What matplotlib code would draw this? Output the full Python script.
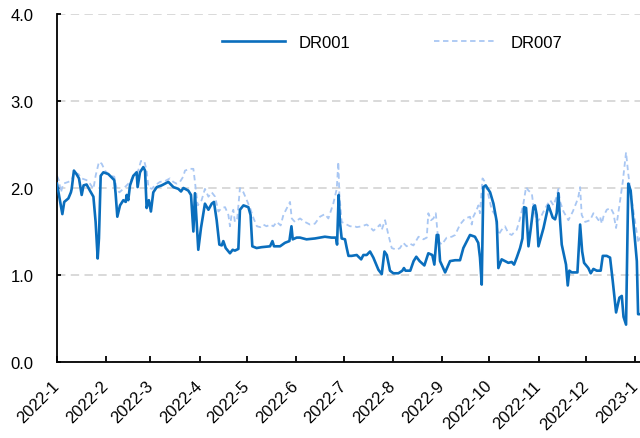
import numpy as np
import pandas as pd
import matplotlib
matplotlib.use("Agg")
import matplotlib.pyplot as plt
import matplotlib.dates as mdates
from matplotlib.ticker import FuncFormatter

plt.rcParams['font.family'] = ['Liberation Sans', 'DejaVu Sans']

# days counted from 2022-01-01, values in %
dr001_day = [0, 3.4, 4.6, 7.2, 8.8, 9.3, 10.7, 12.3, 13.9, 15.6, 16.8, 18.7, 20.8, 23, 24.4, 25.7, 26.5,
             27.6, 29.3, 32.4, 36.2, 37, 38.1, 39.8, 41.9, 43.4, 44, 45, 46.1, 48.2, 50.3, 50.9, 52.4,
             54.5, 55.6, 56.6, 58, 59.3, 60.8, 63, 66.1, 70.3, 73.5, 76.6, 78.3, 79.8, 82.9, 84.6, 86.1,
             87.1, 89.2, 90.9, 93.4, 95.6, 97.7, 99.1, 100.8, 102.5, 104, 105, 106.5, 109.2, 110.9,
             112.3, 114.5, 115.5, 117.7, 120.8, 122.2, 123.3, 126, 129.2, 134.5, 136, 137, 140.8, 143.9,
             146.7, 148, 148.8, 151.3, 153.4, 157.5, 162.8, 169.1, 173.3, 176.1, 176.8, 177.8, 178.6,
             179.7, 181.8, 182.9, 184, 186, 189.2, 192, 193.4, 195.5, 197.6, 199.7, 202.9, 205, 206.7,
             208.2, 210.2, 212.3, 215.5, 218, 219, 220, 223, 225.1, 226.8, 228.9, 231.9, 234.4, 236.9,
             238.2, 239.7, 240.7, 241.8, 245, 248.1, 251.3, 254.4, 256.5, 260.7, 263.8, 265.9, 267,
             268.1, 269.1, 270.6, 273.4, 275.5, 277.6, 278.6, 280.7, 282.8, 284.9, 287, 288.5, 290.2,
             292.3, 293.8, 294.8, 296.1, 297.6, 299.1, 300.7, 301.7, 302.8, 303.9, 307.1, 310.2, 311.2,
             312.9, 314.4, 315.4, 316.5, 317.6, 318.6, 320.1, 321.3, 322.4, 323.4, 324.9, 328.5, 330.2,
             331.5, 332.7, 335.4, 336.9, 338.6, 340.7, 343.2, 344.5, 347, 349.1, 350.8, 352.9, 355,
             356.5, 357.6, 359.2, 360.6, 362.1, 363.8, 366, 366.8, 368]
dr001_val = [2.05, 1.70, 1.84, 1.88, 1.95, 1.99, 2.20, 2.16, 2.11, 1.92, 2.03, 2.04, 1.97, 1.90, 1.61, 1.19, 1.42,
             2.14, 2.18, 2.16, 2.09, 1.94, 1.67, 1.80, 1.86, 1.84, 1.92, 1.86, 2.03, 2.14, 2.18, 2.01, 2.18,
             2.24, 2.20, 1.77, 1.86, 1.73, 1.95, 2.01, 2.03, 2.07, 2.01, 1.99, 1.96, 2.00, 1.97, 1.92, 1.50,
             1.94, 1.29, 1.54, 1.82, 1.75, 1.82, 1.84, 1.63, 1.35, 1.34, 1.39, 1.31, 1.25, 1.29,
             1.28, 1.30, 1.75, 1.80, 1.78, 1.69, 1.33, 1.31, 1.32, 1.33, 1.39, 1.33, 1.33, 1.37,
             1.39, 1.56, 1.41, 1.43, 1.43, 1.41, 1.42, 1.44, 1.43, 1.43, 1.35, 1.92, 1.61,
             1.42, 1.41, 1.31, 1.22, 1.22, 1.23, 1.18, 1.23, 1.23, 1.27, 1.20, 1.06, 1.01, 1.27,
             1.23, 1.05, 1.02, 1.02, 1.05, 1.08, 1.05, 1.05, 1.16, 1.21, 1.16, 1.11, 1.25, 1.23,
             1.12, 1.46, 1.46, 1.16, 1.03, 1.16, 1.17, 1.17, 1.31, 1.46, 1.44, 1.37, 1.20,
             0.89, 2.01, 2.03, 1.95, 1.82, 1.61, 1.08, 1.18, 1.16, 1.14, 1.15, 1.12, 1.20,
             1.31, 1.42, 1.78, 1.77, 1.33, 1.54, 1.78, 1.80, 1.69, 1.33, 1.54, 1.80, 1.75,
             1.66, 1.64, 1.71, 1.94, 1.61, 1.35, 1.22, 1.12, 0.88, 1.05, 1.03, 1.03, 1.58,
             1.27, 1.14, 1.08, 1.02, 1.07, 1.05, 1.05, 1.22, 1.22, 1.20, 0.93, 0.57, 0.74,
             0.76, 0.52, 0.43, 2.05, 1.97, 1.61, 1.16, 0.55, 0.55]

dr007_day = [0, 1.2, 2.5, 4, 7.2, 9.3, 10.7, 13.5, 15.6, 18.7, 20.8, 23, 24.4, 26.5, 28.2, 30.3, 33.4,
             36.2, 37.7, 39.4, 41.9, 44, 46.1, 48.8, 51.3, 53, 55.1, 56.6, 57.7, 59.8, 61.9, 65, 68.2,
             71.3, 73.4, 75.5, 77.6, 79.7, 80.8, 84, 86.1, 87.1, 88.8, 91.3, 93.4, 95.6, 97.7, 99.8,
             101.9, 104, 106.1, 108.2, 109.2, 110.2, 111.3, 112.3, 113.8, 115.5, 117.7, 119.8, 121.9,
             124.1, 126.2, 128.3, 130.2, 132.3, 134.5, 136.6, 138.7, 141.2, 142.9, 145.4, 147.1, 148.2,
             150.2, 153.4, 156.5, 159.7, 162.8, 166, 169.1, 171.3, 174.4, 176.6, 177.6, 178.2, 179.7,
             182.9, 185, 188.1, 189.2, 192.4, 195.5, 197.6, 199.7, 201.8, 203.9, 205, 207.1, 209.2,
             211.3, 214.4, 216.5, 218.6, 220.7, 222.8, 225, 228.2, 231.3, 233.4, 234.4, 236.1, 237.6,
             239.1, 240.7, 242.9, 246, 249.2, 251.3, 254.4, 257.6, 260.7, 261.8, 262.8, 264.9, 266,
             267, 268.6, 270.2, 272.3, 274.4, 276.5, 278.6, 280.7, 282.8, 284.9, 287, 290.2, 292.3,
             294.4, 296.1, 297.6, 299.7, 300.7, 302.8, 305, 307.1, 309.2, 311.3, 313.4, 315.4, 316.5,
             317.6, 319.7, 322.8, 325.6, 328, 329.1, 330.2, 331.2, 333.4, 336.5, 338.6, 340.3, 341.8,
             342.8, 343.9, 344.9, 347, 349.5, 351.2, 352.9, 355, 357.1, 359.2, 360.6, 362.8, 364.9,
             367, 368]
dr007_val = [2.14, 2.09, 1.95, 2.05, 2.07, 2.09, 2.18, 2.16, 2.11, 2.09, 2.05, 1.99, 2.14, 2.30, 2.28, 2.20, 2.14,
             2.13, 1.99, 1.95, 1.99, 2.03, 2.07, 2.16, 2.20, 2.31, 2.31, 2.20, 2.01, 1.99, 2.03, 2.07, 2.08,
             2.11, 2.07, 2.05, 2.07, 2.13, 2.20, 2.22, 2.22, 2.07, 1.80, 1.86, 1.99, 1.90, 1.95, 1.90,
             1.73, 1.77, 1.78, 1.69, 1.56, 1.69, 1.75, 1.61, 1.65, 2.00, 1.95, 1.86, 1.77,
             1.65, 1.56, 1.55, 1.58, 1.56, 1.58, 1.56, 1.61, 1.57, 1.69, 1.78, 1.84, 1.65,
             1.61, 1.65, 1.61, 1.58, 1.59, 1.67, 1.70, 1.65, 1.82, 1.99, 2.30, 1.94, 1.61,
             1.58, 1.56, 1.56, 1.55, 1.56, 1.58, 1.55, 1.51, 1.54, 1.58, 1.52, 1.63, 1.46,
             1.31, 1.29, 1.31, 1.37, 1.33, 1.36, 1.34, 1.44, 1.41, 1.43, 1.71, 1.63, 1.65,
             1.71, 1.39, 1.35, 1.43, 1.44, 1.46, 1.58, 1.65, 1.67, 1.58, 1.67, 1.75, 1.80,
             1.71, 2.11, 2.07, 1.92, 1.75, 1.69, 1.46, 1.52, 1.56, 1.48, 1.46, 1.52, 1.65,
             1.82, 2.01, 1.97, 1.94, 1.80, 1.61, 1.65, 1.73, 1.80, 1.86, 1.80, 1.90, 1.99,
             1.84, 1.73, 1.63, 1.73, 1.84, 1.90, 2.01, 1.69, 1.61, 1.63, 1.71, 1.67, 1.63,
             1.67, 1.59, 1.67, 1.75, 1.77, 1.71, 1.54, 1.80, 2.07, 2.41, 2.16, 1.86, 1.61,
             1.37, 1.43]

start = pd.Timestamp("2022-01-01")
d1 = start + pd.to_timedelta(dr001_day, unit="D")
d7 = start + pd.to_timedelta(dr007_day, unit="D")

fig, ax = plt.subplots(figsize=(6.4, 4.39), dpi=100)
fig.subplots_adjust(left=0.089, right=1.0, top=0.966, bottom=0.173)

ax.plot(d1, dr001_val, color="#0a6ebd", lw=1.9, label="DR001", zorder=3)
ax.plot(d7, dr007_val, color="#a9c7f3", lw=1.3, ls=(0, (3, 2)), label="DR007", zorder=2)

ax.set_ylim(0, 4)
ax.set_yticks([0, 1, 2, 3, 4])
ax.yaxis.set_major_formatter(FuncFormatter(lambda v, p: f"{v:.1f}"))
ax.set_xlim(start, start + pd.Timedelta(days=368))
ax.xaxis.set_major_locator(mdates.MonthLocator())
ax.xaxis.set_major_formatter(FuncFormatter(
    lambda v, p: f"{mdates.num2date(v).year}-{mdates.num2date(v).month}"))

ax.grid(axis="y", color="#d0d0d0", lw=1.1, ls=(0, (5.5, 3.5)))
ax.set_axisbelow(True)
for s in ["top", "right"]:
    ax.spines[s].set_visible(False)
for s in ["left", "bottom"]:
    ax.spines[s].set_linewidth(1.3)

ax.tick_params(axis="y", direction="in", length=3, width=1.3, labelsize=12, pad=17)
ax.tick_params(axis="x", direction="in", length=4, width=1.3, labelsize=12, pad=15)
for lab in ax.get_xticklabels():
    lab.set_rotation(45)
    lab.set_ha("right")
    lab.set_va("center")
    lab.set_rotation_mode("anchor")

ax.legend(loc="center", bbox_to_anchor=(0.575, 0.917), ncol=2, frameon=False, fontsize=12,
          handlelength=3.8, handletextpad=0.8, columnspacing=5.0)

fig.savefig("out.png", dpi=100)
